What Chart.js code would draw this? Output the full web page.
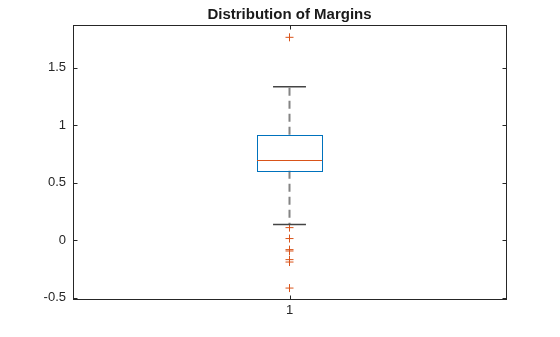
<!DOCTYPE html>
<html><head><meta charset="utf-8">
<script src="https://cdn.jsdelivr.net/npm/chart.js@4"></script>
<style>html,body{margin:0;padding:0;background:#fff}#wrap{width:560px;height:337px}</style>
</head><body><div id="wrap"><canvas id="c" width="560" height="337"></canvas></div>
<script>
const categories = ['1'];
const boxStats = { q1: [0.603], median: [0.696], q3: [0.916], whiskerLow: [0.137], whiskerHigh: [1.333] };
const outliers = [1.763, 0.11, 0.015, -0.081, -0.093, -0.168, -0.189, -0.415];
const yTicks = [-0.5, 0, 0.5, 1, 1.5];
const yRange = [-0.51, 1.87];
const boxHalfWidth = 0.075, capHalfWidth = 0.038;

const boxPlugin = {
  id: 'boxPlugin',
  afterDatasetsDraw(chart) {
    const ctx = chart.ctx, xs = chart.scales.x, ys = chart.scales.y;
    categories.forEach((c, i) => {
      const xc = i + 1;
      const xl = xs.getPixelForValue(xc - boxHalfWidth), xr = xs.getPixelForValue(xc + boxHalfWidth);
      const cl = xs.getPixelForValue(xc - capHalfWidth), cr = xs.getPixelForValue(xc + capHalfWidth);
      const xm = xs.getPixelForValue(xc);
      const yq1 = ys.getPixelForValue(boxStats.q1[i]), yq3 = ys.getPixelForValue(boxStats.q3[i]);
      const ymed = ys.getPixelForValue(boxStats.median[i]);
      const ywl = ys.getPixelForValue(boxStats.whiskerLow[i]), ywh = ys.getPixelForValue(boxStats.whiskerHigh[i]);
      ctx.save();
      ctx.strokeStyle = '#848484'; ctx.lineWidth = 2; ctx.setLineDash([8, 5]);
      ctx.beginPath(); ctx.moveTo(xm, yq3); ctx.lineTo(xm, ywh); ctx.stroke();
      ctx.beginPath(); ctx.moveTo(xm, yq1); ctx.lineTo(xm, ywl); ctx.stroke();
      ctx.setLineDash([]);
      ctx.strokeStyle = '#444444'; ctx.lineWidth = 1.5;
      ctx.beginPath(); ctx.moveTo(cl, ywh); ctx.lineTo(cr, ywh); ctx.stroke();
      ctx.beginPath(); ctx.moveTo(cl, ywl); ctx.lineTo(cr, ywl); ctx.stroke();
      ctx.strokeStyle = '#0072BD'; ctx.lineWidth = 1;
      ctx.strokeRect(Math.round(xl) + 0.5, Math.round(yq3) + 0.5, Math.round(xr - xl), Math.round(yq1 - yq3));
      ctx.strokeStyle = '#D95319';
      ctx.beginPath(); ctx.moveTo(xl, Math.round(ymed) + 0.5); ctx.lineTo(xr, Math.round(ymed) + 0.5); ctx.stroke();
      ctx.restore();
    });
  }
};

const framePlugin = {
  id: 'framePlugin',
  afterDraw(chart) {
    const ctx = chart.ctx, a = chart.chartArea, xs = chart.scales.x, ys = chart.scales.y;
    ctx.save();
    ctx.strokeStyle = '#262626'; ctx.lineWidth = 1;
    const L = Math.round(a.left) + 0.5, R = Math.round(a.right) + 0.5, T = Math.round(a.top) + 0.5, B = Math.round(a.bottom) + 0.5;
    ctx.strokeRect(L, T, R - L, B - T);
    ctx.beginPath();
    yTicks.forEach(v => {
      const y = Math.round(ys.getPixelForValue(v)) + 0.5;
      ctx.moveTo(L, y); ctx.lineTo(L + 4, y);
      ctx.moveTo(R, y); ctx.lineTo(R - 4, y);
    });
    categories.forEach((c, i) => {
      const x = Math.round(xs.getPixelForValue(i + 1)) + 0.5;
      ctx.moveTo(x, B); ctx.lineTo(x, B - 4);
      ctx.moveTo(x, T); ctx.lineTo(x, T + 4);
    });
    ctx.stroke();
    ctx.fillStyle = '#1a1a1a';
    ctx.font = 'bold 15px "Liberation Sans", Arial, sans-serif';
    ctx.textAlign = 'center'; ctx.textBaseline = 'alphabetic';
    ctx.fillText('Distribution of Margins', (a.left + a.right) / 2, 19);
    ctx.restore();
  }
};

new Chart(document.getElementById('c'), {
  type: 'scatter',
  data: {
    datasets: [{
      data: outliers.map(v => ({ x: 1, y: v })),
      pointStyle: 'cross', radius: 4, borderColor: '#D95319', borderWidth: 1, backgroundColor: '#D95319'
    }]
  },
  options: {
    responsive: false, animation: false,
    layout: { padding: { top: 25, right: 54, left: 0, bottom: 0 } },
    plugins: { legend: { display: false }, tooltip: { enabled: false }, title: { display: false } },
    scales: {
      x: {
        type: 'linear', min: 0.5, max: 1.5,
        grid: { display: false, drawTicks: false }, border: { display: false },
        afterBuildTicks(s) { s.ticks = categories.map((c, i) => ({ value: i + 1 })); },
        ticks: { padding: 4, color: '#262626', font: { size: 13, family: '"Liberation Sans", Arial, sans-serif' },
          callback: (v) => categories[Math.round(v) - 1] },
        afterFit(s) { s.height = 38; }
      },
      y: {
        min: yRange[0], max: yRange[1],
        grid: { display: false, drawTicks: false }, border: { display: false },
        afterBuildTicks(s) { s.ticks = yTicks.map(v => ({ value: v })); },
        ticks: { padding: 7, color: '#262626', font: { size: 13, family: '"Liberation Sans", Arial, sans-serif' },
          callback: (v) => String(v) },
        afterFit(s) { s.width = 73; }
      }
    }
  },
  plugins: [boxPlugin, framePlugin]
});
</script></body></html>
